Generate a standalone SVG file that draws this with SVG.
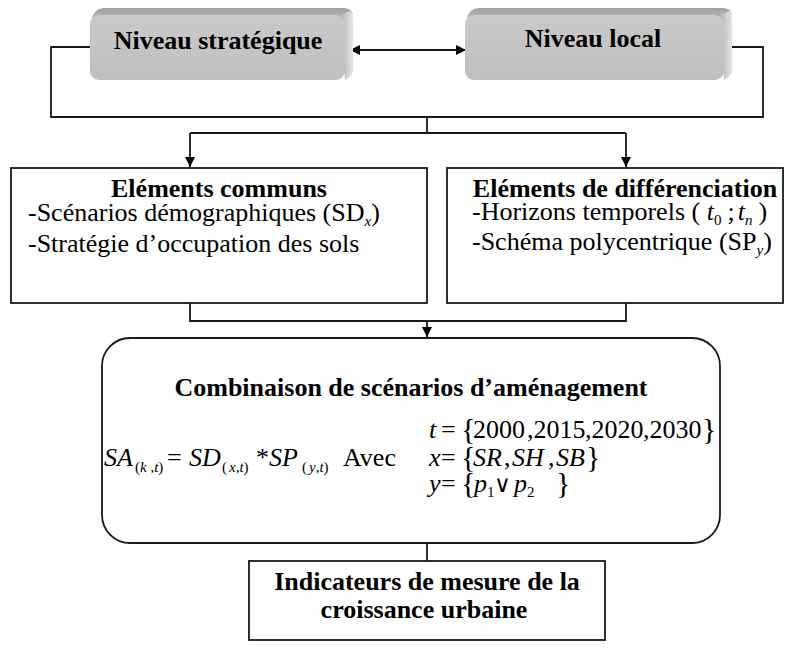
<svg xmlns="http://www.w3.org/2000/svg" width="792" height="648" viewBox="0 0 792 648">
<defs>
<style>
text,tspan{font-family:"Liberation Serif","Times New Roman",serif}
.t{font-size:26px;fill:#000}
.b{font-weight:bold}
.i{font-style:italic}
.sub{font-size:15px}
.br{font-size:30px}
.sym{font-family:"DejaVu Serif",serif;font-size:23px}
.ln{fill:none;stroke:#1a1a1a;stroke-width:1.8}
.box{fill:#fff;stroke:#1a1a1a;stroke-width:1.8}
.face{fill:url(#face)}
.topb{fill:url(#topg)}
.rgtb{fill:url(#rgtg)}
</style>
<linearGradient id="face" x1="0" y1="0" x2="0" y2="1">
<stop offset="0" stop-color="#c9c9c9"/>
<stop offset="1" stop-color="#bfbfbf"/>
</linearGradient>
<linearGradient id="topg" x1="0" y1="0" x2="0" y2="1">
<stop offset="0" stop-color="#a0a0a0"/>
<stop offset="1" stop-color="#b8b8b8"/>
</linearGradient>
<linearGradient id="rgtg" x1="0" y1="0" x2="1" y2="0">
<stop offset="0" stop-color="#b0b0b0"/>
<stop offset="1" stop-color="#e6e6e6"/>
</linearGradient>
<marker id="ah" viewBox="0 0 10 10" refX="10" refY="5" markerWidth="12" markerHeight="10" markerUnits="userSpaceOnUse" orient="auto-start-reverse">
<path d="M0,0 L10,5 L0,10 z" fill="#000"/>
</marker>
</defs>

<g id="connectors">
<path class="ln" d="M90,47 H51 V117 H763 V47 H724"/>
<line class="ln" x1="350" y1="50" x2="466" y2="50" marker-start="url(#ah)" marker-end="url(#ah)"/>
<path class="ln" d="M427,117 V133"/>
<path class="ln" d="M190,133 H626"/>
<line class="ln" x1="190" y1="133" x2="190" y2="167" marker-end="url(#ah)"/>
<line class="ln" x1="626" y1="133" x2="626" y2="167" marker-end="url(#ah)"/>
<path class="ln" d="M190,303 V321 H626 V303"/>
<line class="ln" x1="427" y1="321" x2="427" y2="337" marker-end="url(#ah)"/>
<path class="ln" d="M427,543 V561"/>
</g>

<g id="niveau-strategique">
<path class="topb" d="M92,19 Q93,9 104,8 H344 Q351,8 353,14 L345,17 Z"/>
<path class="rgtb" d="M340,15 L350,11 Q353,12 353,18 V72 Q352,76 345,80 Z"/>
<rect class="face" x="90" y="15" width="255" height="65" rx="9"/>
<text class="t b" x="218" y="49" text-anchor="middle">Niveau stratégique</text>
</g>

<g id="niveau-local">
<path class="topb" d="M467,19 Q468,9 479,8 H723 Q730,8 732,14 L724,17 Z"/>
<path class="rgtb" d="M719,15 L729,11 Q732,12 732,18 V72 Q731,76 724,80 Z"/>
<rect class="face" x="465" y="15" width="259" height="65" rx="9"/>
<text class="t b" x="593" y="47" text-anchor="middle">Niveau local</text>
</g>

<g id="elements-communs">
<rect class="box" x="11" y="168" width="416" height="135"/>
<text class="t b" x="219" y="197" text-anchor="middle">Eléments communs</text>
<text class="t" x="28" y="221">-Scénarios démographiques (SD<tspan class="i sub" dy="5">x</tspan><tspan dy="-5">)</tspan></text>
<text class="t" x="28" y="252">-Stratégie d’occupation des sols</text>
</g>

<g id="elements-differenciation">
<rect class="box" x="447" y="168" width="336" height="135"/>
<text class="t b" x="625" y="197" text-anchor="middle">Eléments de différenciation</text>
<text class="t" x="472" y="220">-Horizons temporels ( <tspan class="i">t</tspan><tspan class="sub" dy="5">0</tspan><tspan dy="-5" dx="6">;</tspan><tspan class="i" dx="3">t</tspan><tspan class="i sub" dy="5">n</tspan><tspan dy="-5" dx="6">)</tspan></text>
<text class="t" x="472" y="250">-Schéma polycentrique (SP<tspan class="i sub" dy="5">y</tspan><tspan dy="-5">)</tspan></text>
</g>

<g id="combinaison">
<rect class="box" x="102" y="338" width="618" height="205" rx="28"/>
<text class="t b" x="411" y="396" text-anchor="middle">Combinaison de scénarios d’aménagement</text>
<text class="t" x="104" y="466"><tspan class="i">SA</tspan><tspan class="sub" x="135" dy="6">(</tspan><tspan class="sub i">k</tspan><tspan class="sub"> ,</tspan><tspan class="sub i">t</tspan><tspan class="sub">)</tspan><tspan dy="-6" x="167">=</tspan><tspan class="i" x="189">SD</tspan><tspan class="sub" x="222" dy="6">(</tspan><tspan class="sub i" dx="2">x</tspan><tspan class="sub">,</tspan><tspan class="sub i">t</tspan><tspan class="sub">)</tspan><tspan dy="-6" x="256">*</tspan><tspan class="i" x="269">SP</tspan><tspan class="sub" x="302" dy="6">(</tspan><tspan class="sub i" dx="2">y</tspan><tspan class="sub">,</tspan><tspan class="sub i">t</tspan><tspan class="sub">)</tspan><tspan dy="-6" x="343">Avec</tspan></text>
<text class="t" x="429" y="438"><tspan class="i">t</tspan><tspan x="441">=</tspan><tspan class="br" x="461" dy="1">{</tspan><tspan x="473" dy="-1">2000</tspan><tspan x="527">,2015</tspan><tspan x="585">,2020</tspan><tspan x="643">,2030</tspan><tspan class="br" x="702" dy="1">}</tspan></text>
<text class="t" x="429" y="466"><tspan class="i">x</tspan><tspan x="441">=</tspan><tspan class="br" x="461" dy="1">{</tspan><tspan class="i" x="473" dy="-1">SR</tspan><tspan x="504">,</tspan><tspan class="i" x="512">SH</tspan><tspan x="548">,</tspan><tspan class="i" x="556">SB</tspan><tspan class="br" x="586" dy="1">}</tspan></text>
<text class="t" x="429" y="492"><tspan class="i">y</tspan><tspan x="441">=</tspan><tspan class="br" x="461" dy="1">{</tspan><tspan class="i" x="474" dy="-1">p</tspan><tspan class="sub" dy="5">1</tspan><tspan class="sym" dy="-5" x="494">∨</tspan><tspan class="i" x="514">p</tspan><tspan class="sub" dy="5">2</tspan><tspan class="br" dy="-4" x="556">}</tspan></text>
</g>

<g id="indicateurs">
<rect class="box" x="249" y="561" width="356" height="79"/>
<text class="t b" x="427" y="590" text-anchor="middle">Indicateurs de mesure de la</text>
<text class="t b" x="424" y="618" text-anchor="middle">croissance urbaine</text>
</g>
</svg>
